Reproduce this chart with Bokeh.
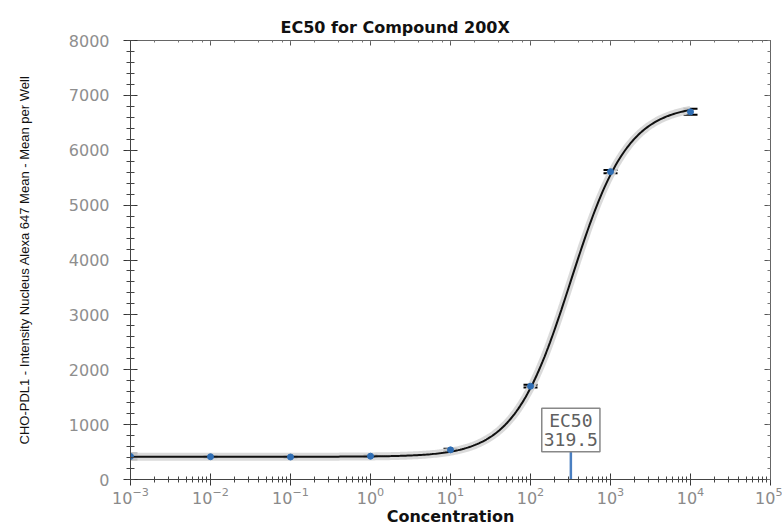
import numpy as np
from bokeh.plotting import figure
from bokeh.models import (LogAxis, LinearAxis, Whisker, TeeHead, ColumnDataSource,
                          Label, FixedTicker, Range1d, LogTicker)
from bokeh.embed import file_html
from bokeh.resources import INLINE

# Data
concentration = [0.001, 0.01, 0.1, 1, 10, 100, 1000, 10000]
mean_signal = [420, 415, 410, 425, 540, 1700, 5610, 6700]
sem_signal = [50, 15, 12, 15, 20, 25, 30, 55]

# 4-parameter logistic fit parameters (EC50 from the chart)
fit_bottom = 415
fit_top = 6830
fit_ec50 = 319.5
fit_hill = 1.22
ec50_marker_height = 505

y_ticks = [0, 1000, 2000, 3000, 4000, 5000, 6000, 7000, 8000]

p = figure(width=782, height=528, x_axis_type="log",
           x_range=Range1d(1e-3, 1e5), y_range=Range1d(0, 8000),
           output_backend="svg", toolbar_location=None,
           title="EC50 for Compound 200X",
           min_border_left=130, min_border_right=12,
           min_border_top=40, min_border_bottom=40)

p.title.align = "left"
p.title.offset = 150
p.title.text_font = "DejaVu Sans"
p.title.text_font_size = "16px"
p.title.text_font_style = "bold"
p.title.text_color = "#111111"
p.title.standoff = 8

p.grid.visible = False
p.outline_line_color = "#333333"
p.outline_line_width = 1
p.background_fill_color = "white"
p.border_fill_color = "white"

# Bottom axis
xa = p.xaxis[0]
xa.axis_label = "Concentration"
xa.axis_label_text_font = "DejaVu Sans"
xa.axis_label_text_font_style = "bold"
xa.axis_label_text_font_size = "16px"
xa.axis_label_text_color = "#111111"
xa.axis_label_standoff = 0
xa.major_label_text_font = "DejaVu Sans"
xa.major_label_text_font_size = "16px"
xa.major_label_text_color = "#8a8a8a"
xa.major_label_standoff = 1
xa.major_tick_in = 6
xa.major_tick_out = 6
xa.minor_tick_in = 3
xa.minor_tick_out = 3
xa.axis_line_color = "#444444"
xa.major_tick_line_color = "#333333"
xa.minor_tick_line_color = "#444444"

# Left axis
ya = p.yaxis[0]
ya.ticker = FixedTicker(ticks=y_ticks, minor_ticks=list(range(0, 8001, 200)))
ya.axis_label = "CHO-PDL1 - Intensity Nucleus Alexa 647 Mean - Mean per Well"
ya.axis_label_text_font = "Liberation Sans"
ya.axis_label_text_font_style = "normal"
ya.axis_label_text_font_size = "13px"
ya.axis_label_text_color = "#111111"
ya.axis_label_standoff = 34
ya.major_label_text_font = "DejaVu Sans"
ya.major_label_text_font_size = "16px"
ya.major_label_text_color = "#8e8e8e"
ya.major_label_standoff = 14
ya.major_tick_in = 7
ya.major_tick_out = 7
ya.minor_tick_in = 4
ya.minor_tick_out = 4
ya.axis_line_color = "#444444"
ya.major_tick_line_color = "#333333"
ya.minor_tick_line_color = "#444444"

# Top and right axes (ticks inside only)
top = LogAxis(ticker=LogTicker(), major_label_text_font_size="1px",
              major_label_text_alpha=0, major_label_standoff=0,
              major_tick_in=5, major_tick_out=0, minor_tick_in=2, minor_tick_out=0,
              axis_line_color="#666666", major_tick_line_color="#555555",
              minor_tick_line_color="#777777")
p.add_layout(top, "above")
right = LinearAxis(ticker=FixedTicker(ticks=y_ticks, minor_ticks=list(range(0, 8001, 200))),
                   major_label_text_font_size="1px", major_label_text_alpha=0,
                   major_label_standoff=0,
                   major_tick_in=6, major_tick_out=0, minor_tick_in=3, minor_tick_out=0,
                   axis_line_color="#666666", major_tick_line_color="#555555",
                   minor_tick_line_color="#777777")
p.add_layout(right, "right")

# Fitted curve
xs = np.logspace(-3, 4, 300)
ys = fit_bottom + (fit_top - fit_bottom) / (1 + (fit_ec50 / xs) ** fit_hill)
p.line(xs, ys, line_color="#d6d6d6", line_width=8, line_alpha=0.9)
p.line(xs, ys, line_color="#111111", line_width=2)

# Data points with error bars
src = ColumnDataSource(dict(
    x=concentration, y=mean_signal,
    lo=[m - e for m, e in zip(mean_signal, sem_signal)],
    hi=[m + e for m, e in zip(mean_signal, sem_signal)]))
wh = Whisker(source=src, base="x", lower="lo", upper="hi",
             line_color="black", line_width=1.5,
             upper_head=TeeHead(size=14, line_color="black", line_width=2),
             lower_head=TeeHead(size=14, line_color="black", line_width=2))
p.add_layout(wh)
p.scatter("x", "y", source=src, size=6, fill_color="#2e6db4", line_color="#2e6db4")

# EC50 marker
p.segment(x0=[fit_ec50], y0=[0], x1=[fit_ec50], y1=[ec50_marker_height],
          line_color="#4a7fc1", line_width=2.5)
lab = Label(x=fit_ec50, y=ec50_marker_height, text="EC50\n319.5",
            text_align="center", text_baseline="bottom",
            text_font="DejaVu Sans Mono", text_font_size="18px",
            text_color="#606060", text_line_height=0.88,
            border_line_color="#888888", border_line_width=1.5,
            background_fill_color="white", padding=2)
p.add_layout(lab)

open("out.html", "w").write(file_html(p, INLINE))
